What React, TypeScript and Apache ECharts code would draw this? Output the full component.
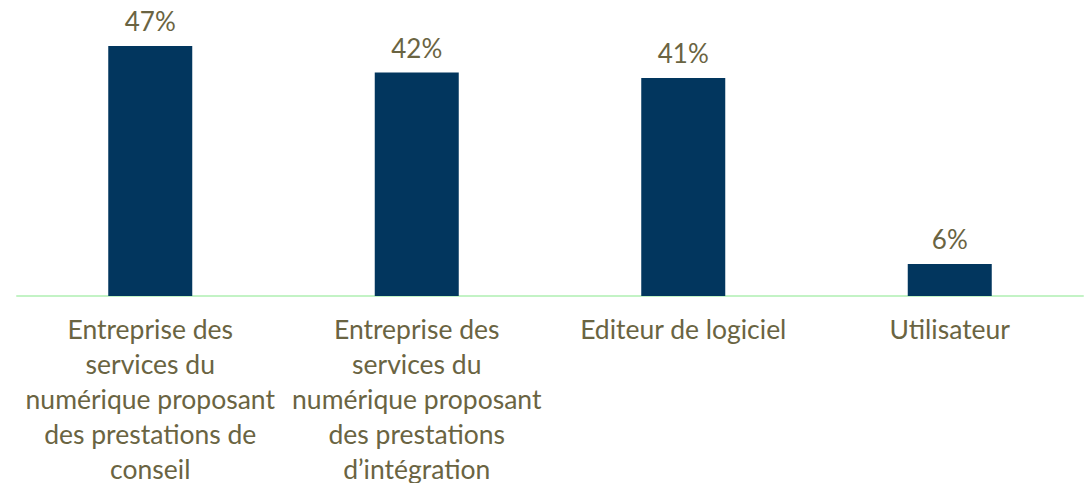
import React, { useEffect, useRef } from "react";
import * as echarts from "echarts";

const categories = [
  "Entreprise des\nservices du\nnumérique proposant\ndes prestations de\nconseil",
  "Entreprise des\nservices du\nnumérique proposant\ndes prestations\nd’intégration",
  "Editeur de logiciel",
  "Utilisateur",
];
const values = [47, 42, 41, 6];

const TEXT = "#6a6442";
const FONT = "Lato";

export default function App() {
  const ref = useRef<HTMLDivElement>(null);
  useEffect(() => {
    if (!ref.current) return;
    const chart = echarts.init(ref.current, null, { renderer: "svg" });
    chart.setOption({
      animation: false,
      grid: { left: 17, right: 9, top: 30, bottom: 195, containLabel: false },
      xAxis: {
        type: "category",
        data: categories,
        axisLine: { lineStyle: { color: "#c3f3c5", width: 2 } },
        axisTick: { show: false },
        axisLabel: {
          interval: 0,
          color: TEXT,
          fontFamily: FONT,
          fontSize: 26.5,
          lineHeight: 35,
          margin: 15,
        },
      },
      yAxis: {
        type: "value",
        min: 0,
        max: 50,
        show: false,
        splitLine: { show: false },
      },
      series: [
        {
          type: "bar",
          data: values,
          barWidth: 84,
          itemStyle: { color: "#02365e" },
          label: {
            show: true,
            position: "top",
            distance: 12,
            color: TEXT,
            fontFamily: FONT,
            fontSize: 26,
            formatter: "{c}%",
          },
        },
      ],
    });
    return () => chart.dispose();
  }, []);
  return <div ref={ref} style={{ width: 1092, height: 491, margin: -8 }} />;
}
